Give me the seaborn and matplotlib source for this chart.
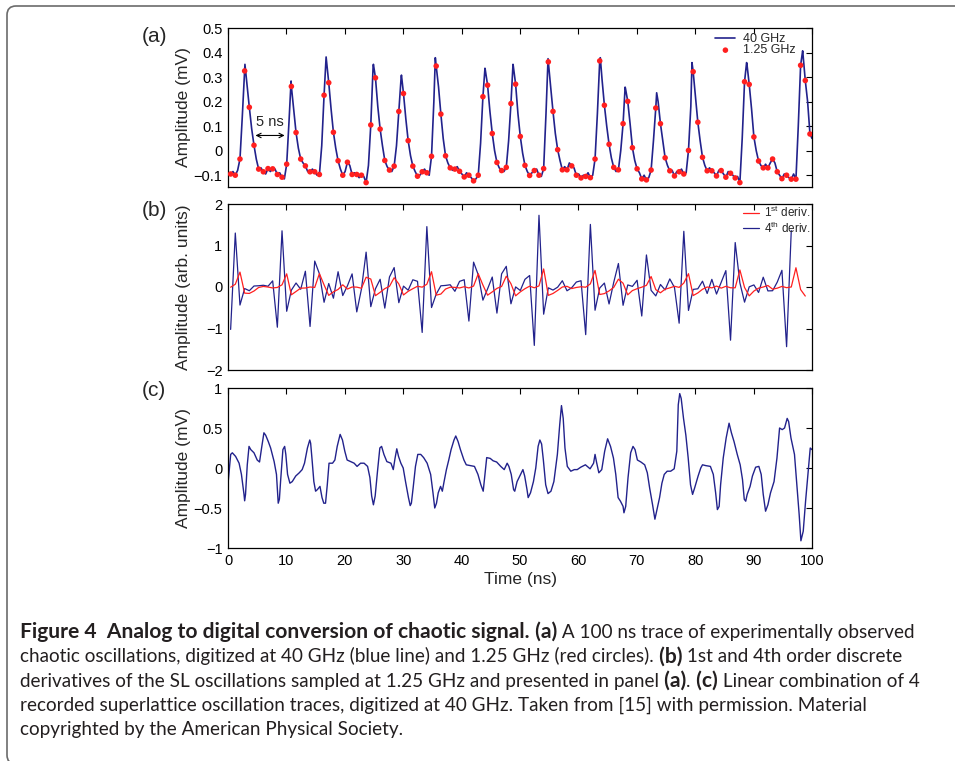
import numpy as np
import pandas as pd
import matplotlib
matplotlib.use("Agg")
import matplotlib.pyplot as plt
import seaborn as sns
from matplotlib.patches import FancyBboxPatch
from matplotlib.transforms import IdentityTransform

# ---- panel (a): 1.25 GHz samples (red circles), one every 0.8 ns
SAMPLE_T0 = 0.45
SAMPLE_DT = 0.8
slow_v = [-0.095, -0.100, -0.034, 0.325, 0.177, 0.022, -0.075, -0.086, -0.073, -0.074,
          -0.097, -0.108, -0.055, 0.262, 0.074, -0.034, -0.062, -0.086, -0.086, -0.097,
          0.226, 0.277, 0.075, -0.041, -0.100, -0.047, -0.097, -0.097, -0.100, -0.130,
          0.105, 0.297, 0.088, -0.040, -0.079, -0.063, 0.160, 0.233, 0.041, -0.063,
          -0.104, -0.086, -0.090, -0.023, 0.345, 0.149, -0.021, -0.070, -0.075, -0.084,
          -0.107, -0.100, -0.123, -0.100, 0.220, 0.267, 0.070, -0.048, -0.081, -0.068,
          0.192, 0.271, 0.058, -0.060, -0.101, -0.081, -0.100, -0.073, 0.362, 0.160,
          0.004, -0.078, -0.078, -0.062, -0.100, -0.111, -0.105, -0.110, -0.034, 0.366,
          0.185, 0.026, -0.068, -0.078, 0.110, 0.201, 0.012, -0.074, -0.115, -0.119,
          -0.079, 0.174, 0.110, -0.029, -0.082, -0.103, -0.086, -0.095, 0.001, 0.322,
          0.116, -0.027, -0.082, -0.082, -0.103, -0.081, -0.108, -0.092, -0.111, -0.130,
          0.281, 0.270, 0.056, -0.042, -0.070, -0.070, -0.034, -0.086, -0.114, -0.100,
          -0.116, -0.116, 0.348, 0.286, 0.068]

# 40 GHz trace: values read half way between the slow samples
half_v = [-0.085, -0.080, 0.140, 0.270, 0.090, -0.035, -0.070, -0.095, -0.085, -0.075,
          -0.090, -0.115, 0.120, 0.170, 0.010, -0.050, -0.085, -0.075, -0.100, 0.020,
          0.370, 0.170, 0.010, -0.075, -0.085, -0.060, -0.090, -0.110, -0.105, -0.060,
          0.345, 0.180, 0.020, -0.065, -0.085, 0.020, 0.300, 0.130, -0.020, -0.085,
          -0.100, -0.075, -0.100, 0.200, 0.260, 0.050, -0.050, -0.080, -0.065, -0.095,
          -0.090, -0.110, -0.115, 0.030, 0.330, 0.160, 0.000, -0.070, -0.085, 0.040,
          0.345, 0.150, -0.010, -0.085, -0.090, -0.075, -0.105, 0.150, 0.260, 0.070,
          -0.040, -0.065, -0.050, -0.070, -0.095, -0.100, -0.090, -0.100, 0.150, 0.290,
          0.100, -0.030, -0.085, 0.000, 0.255, 0.110, -0.040, -0.090, -0.100, -0.110,
          0.040, 0.200, 0.040, -0.060, -0.080, -0.085, -0.075, -0.090, 0.180, 0.220,
          0.040, -0.060, -0.070, -0.090, -0.080, -0.095, -0.085, -0.100, -0.105, 0.050,
          0.355, 0.170, 0.000, -0.060, -0.055, -0.050, -0.050, -0.100, -0.095, -0.110,
          -0.095, 0.100, 0.395, 0.200]

# spike maxima of the 40 GHz trace
peak_t = [2.9, 10.8, 16.8, 24.9, 29.7, 35.5, 44.0, 48.8, 54.8, 63.75, 68.0, 73.4, 79.45, 88.8, 98.4]
peak_v = [0.352, 0.284, 0.382, 0.352, 0.308, 0.379, 0.336, 0.352, 0.375, 0.379, 0.259, 0.236, 0.359, 0.359, 0.407]
edge_t = [0.0, 100.0]
edge_v = [-0.09, 0.05]

# ---- panel (c): linear combination of 4 traces
comb_t = [0.0, 0.46, 0.74, 1.3, 1.9, 2.3, 2.74, 2.85, 3.0, 3.3, 3.6, 3.9, 4.45, 5.0, 5.4, 5.75,
          6.15, 6.45, 6.9, 7.3, 7.9, 8.3, 8.6, 8.8, 9.0, 9.4, 9.7, 9.9, 10.2, 10.6, 11.0, 11.6,
          12.2, 12.7, 13.1, 13.6, 14.0, 14.15, 14.4, 14.7, 15.0, 15.3, 15.75, 16.1, 16.4, 16.7,
          17.0, 17.3, 17.9, 18.3, 18.7, 19.2, 19.6, 20.0, 20.4, 21.0, 21.6, 22.1, 22.7, 23.3,
          23.9, 24.3, 24.6, 24.9, 25.2, 25.6, 26.0, 26.3, 26.7, 27.2, 27.9, 28.3, 28.6, 28.9,
          29.2, 29.6, 30.0, 30.4, 30.9, 31.2, 31.4, 31.7, 32.1, 32.5, 33.0, 33.5, 34.1, 34.7,
          35.1, 35.4, 35.7, 36.0, 36.4, 36.7, 37.0, 37.4, 37.8, 38.2, 38.7, 39.0, 39.4, 39.8,
          40.4, 40.8, 41.5, 42.2, 42.8, 43.3, 43.7, 44.0, 44.3, 44.9, 45.4, 46.0, 46.7, 47.3,
          47.8, 48.1, 48.5, 48.9, 49.1, 49.5, 50.1, 50.5, 50.8, 51.2, 51.4, 51.8, 52.3, 52.7,
          53.1, 53.4, 53.7, 54.0, 54.4, 54.8, 55.3, 55.8, 56.4, 56.8, 57.1, 57.4, 57.7, 58.1,
          58.7, 59.3, 59.8, 60.4, 61.2, 62.0, 62.6, 62.85, 63.1, 63.5, 64.0, 64.5, 65.0, 65.5,
          66.0, 66.4, 66.8, 67.2, 67.65, 67.8, 68.1, 68.5, 68.95, 69.35, 69.7, 70.1, 70.7,
          71.35, 71.8, 72.2, 72.7, 73.1, 73.4, 73.9, 74.3, 74.7, 75.2, 75.8, 76.4, 76.85,
          77.1, 77.35, 77.6, 78.0, 78.4, 78.8, 79.2, 79.55, 79.9, 80.5, 80.95, 81.25, 81.8,
          82.6, 83.1, 83.5, 83.8, 84.1, 84.35, 84.8, 85.3, 85.8, 86.2, 86.65, 87.2, 87.7,
          88.1, 88.4, 88.65, 88.9, 89.4, 89.8, 90.35, 90.9, 91.3, 91.65, 92.05, 92.45, 92.9,
          93.5, 94.0, 94.45, 94.9, 95.3, 95.75, 96.0, 96.4, 97.0, 97.4, 97.8, 98.1, 98.5,
          98.9, 99.3, 99.7, 100.0]
comb_v = [-0.20, 0.17, 0.19, 0.145, 0.06, -0.08, -0.33, -0.41, -0.33, 0.04, 0.27, 0.23, 0.19, 0.10, 0.075, 0.25,
          0.44, 0.41, 0.33, 0.25, 0.08, -0.08, -0.44, -0.39, -0.17, 0.23, 0.27, 0.17, -0.08, -0.19, -0.17, -0.10,
          -0.06, -0.02, 0.06, 0.25, 0.35, 0.31, 0.10, -0.17, -0.29, -0.27, -0.23, -0.37, -0.44, -0.44,
          -0.21, 0.06, 0.06, 0.10, 0.27, 0.42, 0.35, 0.21, 0.10, 0.08, 0.06, 0.02, 0.06, 0.06,
          0.02, -0.12, -0.35, -0.46, -0.35, -0.04, 0.25, 0.27, 0.17, 0.08, 0.06, -0.02, 0.12, 0.24,
          0.145, 0.06, 0.0, -0.17, -0.37, -0.47, -0.44, -0.25, 0.02, 0.17, 0.17, 0.13, 0.06, -0.08,
          -0.31, -0.50, -0.44, -0.31, -0.23, -0.29, -0.17, -0.02, 0.10, 0.23, 0.35, 0.40, 0.33, 0.23,
          0.10, 0.04, 0.03, 0.02, -0.08, -0.21, -0.29, -0.08, 0.13, 0.12, 0.09, 0.075, 0.02, -0.02,
          0.06, 0.02, -0.08, -0.27, -0.29, -0.17, -0.08, -0.02, -0.10, -0.27, -0.37, -0.31, -0.17, 0.0,
          0.27, 0.35, 0.30, 0.10, -0.21, -0.32, -0.29, -0.17, 0.17, 0.54, 0.78, 0.62, 0.25, 0.02,
          -0.04, -0.02, -0.02, 0.01, 0.04, -0.01, 0.06, 0.17, 0.075, -0.06, -0.02, 0.21, 0.365, 0.27,
          0.125, -0.08, -0.37, -0.415, -0.48, -0.56, -0.48, -0.12, 0.19, 0.27, 0.23, 0.10, 0.075,
          0.04, -0.06, -0.25, -0.46, -0.64, -0.54, -0.37, -0.19, -0.08, -0.04, -0.04, -0.01, 0.21,
          0.79, 0.93, 0.87, 0.62, 0.41, 0.125, -0.21, -0.33, -0.25, -0.10, 0.0, 0.04, 0.03,
          0.02, -0.08, -0.31, -0.52, -0.48, -0.21, 0.125, 0.375, 0.56, 0.44, 0.33, 0.17, 0.04,
          -0.145, -0.39, -0.415, -0.33, -0.23, -0.10, 0.01, 0.02, -0.08, -0.33, -0.54, -0.46, -0.31,
          -0.17, 0.125, 0.50, 0.48, 0.50, 0.62, 0.58, 0.375, 0.17, -0.21, -0.58, -0.91, -0.79,
          -0.415, -0.08, 0.25, 0.23]

x_ticks = [0, 10, 20, 30, 40, 50, 60, 70, 80, 90, 100]
a_yticks = [-0.1, 0, 0.1, 0.2, 0.3, 0.4, 0.5]
b_yticks = [-2, -1, 0, 1, 2]
c_yticks = [-1, -0.5, 0, 0.5, 1]

caption = [
    [("Figure 4  Analog to digital conversion of chaotic signal.", True), (" (a)", True),
     (" A 100 ns trace of experimentally observed", False)],
    [("chaotic oscillations, digitized at 40 GHz (blue line) and 1.25 GHz (red circles).", False),
     (" (b)", True), (" 1st and 4th order discrete", False)],
    [("derivatives of the SL oscillations sampled at 1.25 GHz and presented in panel", False),
     (" (a)", True), (".", False), (" (c)", True), (" Linear combination of 4", False)],
    [("recorded superlattice oscillation traces, digitized at 40 GHz. Taken from [15] with permission. Material", False)],
    [("copyrighted by the American Physical Society.", False)],
]

BLUE = "#22228c"
RED = "#ff1f1f"
W, H = 955, 761

sns.set_style("white")
plt.rcParams["font.family"] = ["Liberation Sans", "DejaVu Sans"]
plt.rcParams["mathtext.fontset"] = "custom"
plt.rcParams["mathtext.rm"] = "Liberation Sans"

fig = plt.figure(figsize=(W / 100, H / 100), dpi=100)


def add_ax(top, bottom):
    return fig.add_axes([228 / W, 1 - bottom / H, 584 / W, (bottom - top) / H])


ax_a = add_ax(28, 187)
ax_b = add_ax(204, 370)
ax_c = add_ax(388, 548)

t_slow = SAMPLE_T0 + SAMPLE_DT * np.arange(len(slow_v))
fast = pd.DataFrame({
    "t": np.concatenate([t_slow, t_slow[:-1] + SAMPLE_DT / 2, peak_t, edge_t]),
    "v": np.concatenate([slow_v, half_v, peak_v, edge_v]),
}).sort_values("t")

# (a)
sns.lineplot(data=fast, x="t", y="v", ax=ax_a, color=BLUE, lw=1.2, estimator=None,
             label="40 GHz")
sns.scatterplot(x=t_slow, y=slow_v, ax=ax_a, color=RED, s=16, edgecolor="none",
                label="1.25 GHz", zorder=3)
ax_a.annotate("", xy=(4.7, 0.062), xytext=(9.7, 0.062),
              arrowprops=dict(arrowstyle="<->", lw=0.8, color="k", shrinkA=0, shrinkB=0,
                              mutation_scale=8))
ax_a.text(7.2, 0.118, "5 ns", ha="center", va="center", fontsize=10.5)
ax_a.legend(loc="upper right", bbox_to_anchor=(0.975, 0.98), frameon=False, fontsize=9,
            handlelength=1.6, handletextpad=0.6, labelspacing=-0.05, borderaxespad=0,
            borderpad=0.15)

# (b) discrete derivatives of the 1.25 GHz samples
d1 = np.diff(slow_v)
d4 = np.diff(slow_v, 4)
sns.lineplot(x=t_slow[:len(d4)], y=d4, ax=ax_b, color=BLUE, lw=0.9, estimator=None,
             label="4$^{\\rm th}$ deriv.")
sns.lineplot(x=t_slow[:len(d1)], y=d1, ax=ax_b, color=RED, lw=0.9, estimator=None,
             label="1$^{\\rm st}$ deriv.")
h, l = ax_b.get_legend_handles_labels()
ax_b.legend(h[::-1], l[::-1], loc="upper right", bbox_to_anchor=(1.0, 1.0), frameon=False,
            fontsize=8.5, handlelength=1.4, handletextpad=0.4, labelspacing=0.0,
            borderaxespad=0, borderpad=0.1)

# (c)
sns.lineplot(x=comb_t, y=comb_v, ax=ax_c, color=BLUE, lw=1.0, estimator=None, sort=False)


def fmt(v):
    return "0" if v == 0 else f"{v:g}".replace("-", "\u2212")


for ax, yt, lim, lab in [(ax_a, a_yticks, (-0.148, 0.5), "Amplitude (mV)"),
                         (ax_b, b_yticks, (-2, 2), "Amplitude (arb. units)"),
                         (ax_c, c_yticks, (-1, 1), "Amplitude (mV)")]:
    ax.set_xlim(0, 100)
    ax.set_ylim(*lim)
    ax.set_xticks(x_ticks)
    ax.set_yticks(yt)
    ax.set_yticklabels([fmt(v) for v in yt])
    ax.tick_params(direction="in", length=4, width=0.8, top=True, right=True,
                   labelsize=10.5, pad=4, colors="k")
    for s in ax.spines.values():
        s.set_color("k")
        s.set_linewidth(0.9)
    ax.set_ylabel(lab, fontsize=12.5)
    ax.yaxis.set_label_coords(-0.064, 0.5)
    ax.set_xlabel("")

ax_a.tick_params(labelbottom=False)
ax_b.tick_params(labelbottom=False)
ax_c.set_xticklabels([str(v) for v in x_ticks])
ax_c.set_xlabel("Time (ns)", fontsize=12.5)
ax_c.xaxis.set_label_coords(0.5, -0.15)

for lab, yc in [("(a)", 37), ("(b)", 210), ("(c)", 390)]:
    fig.text(142 / W, 1 - yc / H, lab, fontsize=15, ha="left", va="center")

# caption
renderer = fig.canvas.get_renderer()
CAP_FONT = ["Lato", "DejaVu Sans"]
CAP_COLOR = "#231f20"


def draw_line(pieces, y_px, size_reg, size_bold):
    x = 20
    texts = []
    for s, bold in pieces:
        t = fig.text(x / W, 1 - y_px / H, s, family=CAP_FONT,
                     fontsize=size_bold if bold else size_reg,
                     fontweight="bold" if bold else "normal", color=CAP_COLOR,
                     ha="left", va="baseline")
        texts.append(t)
        x += t.get_window_extent(renderer).width
    return texts, x


def measure(pieces):
    texts, x_end = draw_line(pieces, 638, 13, 13)
    for t in texts:
        t.remove()
    return x_end - 20


# regular text fitted on line 4, bold heading fitted on its own width
reg_size = 13 * (866 - 20) / measure(caption[3])
bold_size = 13 * (527 - 20) / measure(caption[0][:1])
for i, line in enumerate(caption):
    draw_line(line, 638 + 24.3 * i, reg_size, bold_size)

# rounded frame
frame = FancyBboxPatch((7, -3), 1100, 758, boxstyle="round,pad=0,rounding_size=9",
                       transform=IdentityTransform(), fill=False, ec="#6b6b6b", lw=1.2)
fig.add_artist(frame)

fig.savefig("out.png", dpi=100)
